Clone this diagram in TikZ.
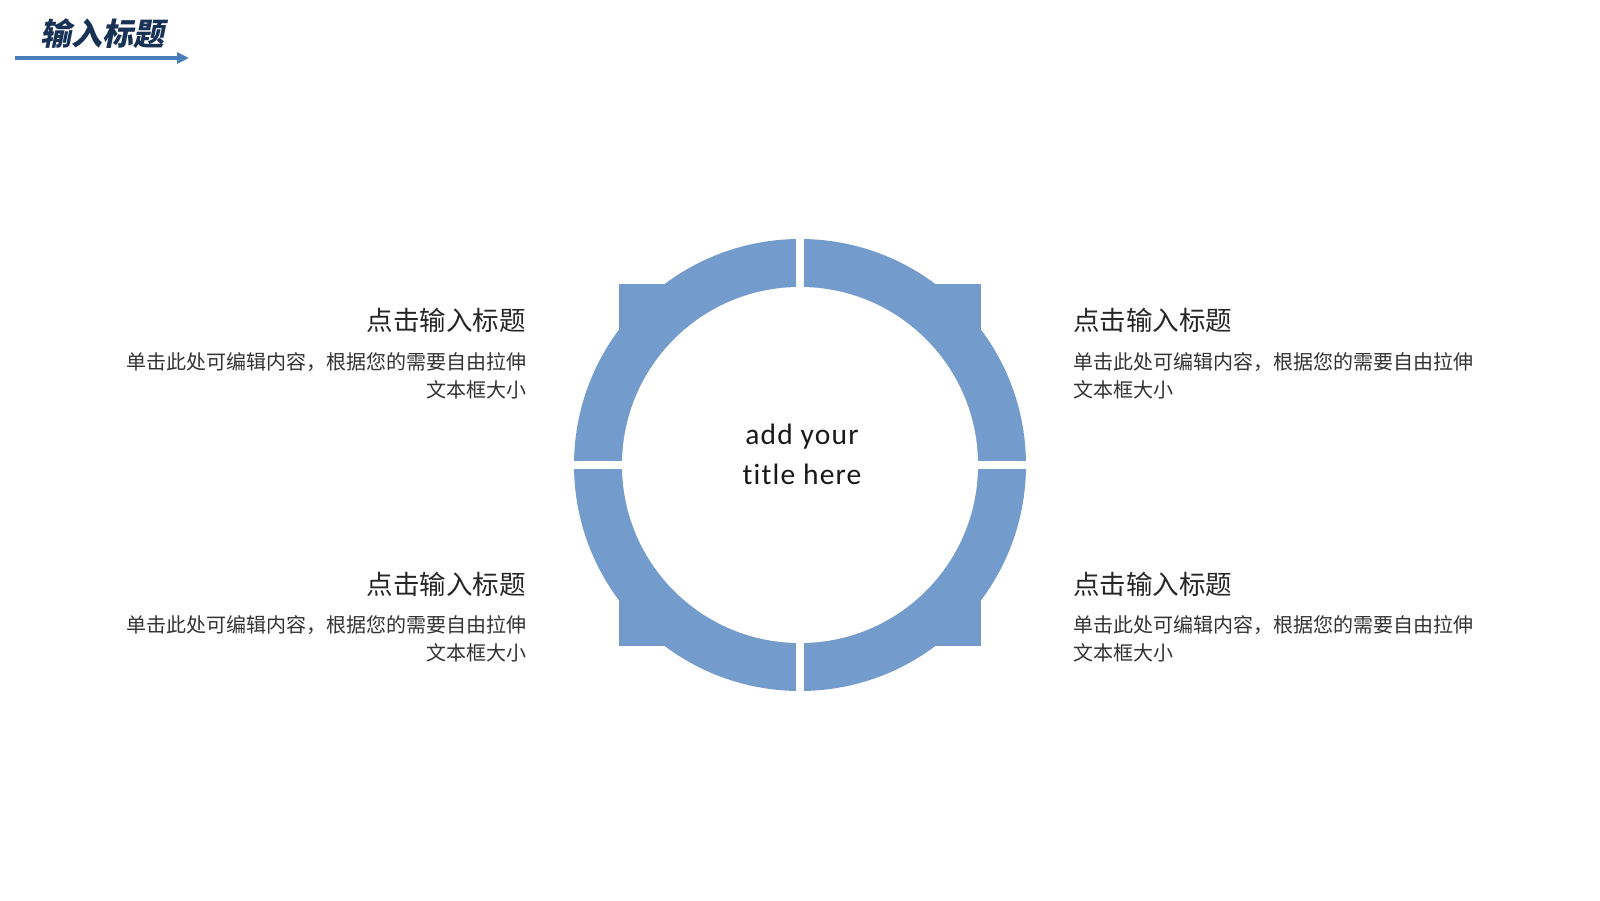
\documentclass[tikz,border=0pt]{standalone}
\usepackage{fontspec}
\usepackage{tikz}
\usepackage{xcolor}
\usetikzlibrary{arrows.meta}
\setmainfont{Carlito}
\newfontfamily\cjk{Noto Sans CJK SC}
\newfontfamily\cjkhead{Noto Sans CJK SC}[BoldFeatures={FakeSlant=0.2}]
\newfontfamily\hubfont{Carlito}[LetterSpace=4, Ligatures={NoCommon}]
\definecolor{ringblue}{RGB}{115,155,203}
\definecolor{arrowblue}{RGB}{74,125,187}
\definecolor{headnavy}{RGB}{24,50,86}

\begin{document}
\begin{tikzpicture}[x=1pt,y=-1pt,
    itemtitle/.style={inner sep=0pt, text=black!85, font=\cjk\fontsize{26.5}{30}\selectfont},
    itembody/.style={inner sep=0pt, text=black!80, font=\cjk\fontsize{20}{28}\selectfont}]

        \useasboundingbox[fill=white] (0,0) rectangle (1600,900);

        \coordinate(C) at (800, 465);
        \coordinate(arrS) at (15, 58);
        \coordinate(arrE) at (189, 58);

        % header
        \node[anchor=base west, inner sep=0pt, text=headnavy, font=\cjkhead\bfseries\fontsize{31}{34}\selectfont] (head) at (40, 45) {输入标题};
        \draw[arrowblue, line width=3.5pt, -{Triangle[length=12pt,width=11pt]}] (arrS) -- (arrE);

        % ring
        \fill[ringblue] (C) circle (226);
        \fill[ringblue] (619, 284) rectangle (981, 646);
        \fill[white] (C) circle (178);
        \fill[white] (796, 230) rectangle (804, 700);
        \fill[white] (560, 461) rectangle (1040, 469);

        \node[anchor=north, align=center, inner sep=0pt, text=black!90, font=\hubfont\fontsize{29.5}{40}\selectfont] (hub) at (802, 424) {add your\\title here};

        % left
        \node[itemtitle, anchor=north east] (tl) at (526, 308) {点击输入标题};
        \node[itembody, anchor=north east, align=right] (bl) at (527, 352) {单击此处可编辑内容，根据您的需要自由拉伸\\文本框大小};
        \node[itemtitle, anchor=north east] (tl2) at (526, 572) {点击输入标题};
        \node[itembody, anchor=north east, align=right] (bl2) at (527, 615) {单击此处可编辑内容，根据您的需要自由拉伸\\文本框大小};

        % right
        \node[itemtitle, anchor=north west] (tr) at (1073, 308) {点击输入标题};
        \node[itembody, anchor=north west, align=left] (br) at (1073, 352) {单击此处可编辑内容，根据您的需要自由拉伸\\文本框大小};
        \node[itemtitle, anchor=north west] (tr2) at (1073, 572) {点击输入标题};
        \node[itembody, anchor=north west, align=left] (br2) at (1073, 615) {单击此处可编辑内容，根据您的需要自由拉伸\\文本框大小};

    \end{tikzpicture}
\end{document}
